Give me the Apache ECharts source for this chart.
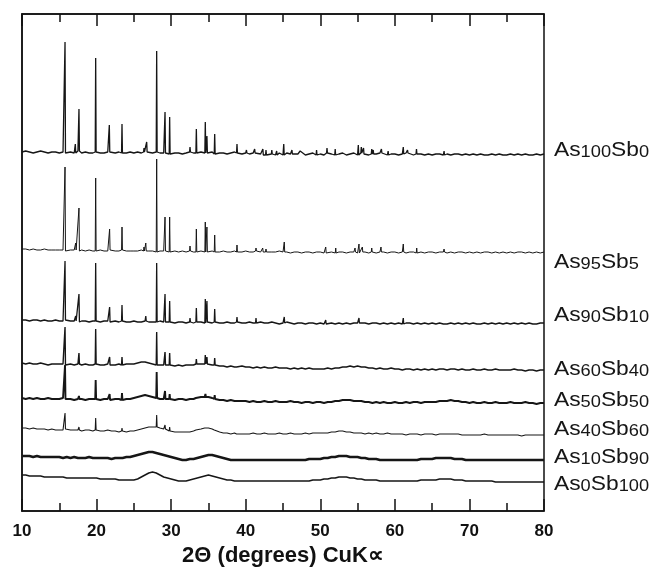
<!DOCTYPE html>
<html>
<head>
<meta charset="utf-8">
<script src="https://cdn.jsdelivr.net/npm/echarts@6/dist/echarts.min.js"></script>
<style>
  html, body { margin: 0; padding: 0; background: #ffffff; }
  #chart { width: 655px; height: 569px; }
</style>
</head>
<body>
<div id="chart"></div>
<script>
// Powder XRD patterns of As–Sb films, stacked with a vertical offset (arbitrary units).
// Each trace: a background sampled every 0.5° from 10° to 80°, plus sharp reflections [2θ, peak top].
const twoThetaStart = 10;
const twoThetaStep = 0.5;

const as100sb0Base = [
  359,360,359,358,359,360,359,358,359,359,
  358,359,358,359,358,360,358,359,358,358,
  359,358,358,359,357,358,359,358,358,359,
  358,359,358,359,358,358,359,358,358,358,
  357,358,358,357,358,359,358,358,359,358,
  358,359,357,358,358,357,358,359,358,357,
  358,357,358,359,357,356,358,357,356,358,
  356,358,357,356,357,358,356,357,358,356,
  357,356,358,357,356,357,358,356,357,358,
  356,358,357,356,357,357,358,356,356,357,
  357,356,357,358,357,356,357,357,356,357,
  356,357,357,356,357,356,357,357,356,357,
  356,357,356,357,356,356,357,356,357,356,
  356,357,356,357,356,357,356,356,357,356,
  357
];
const as100sb0Peaks = [
  [15.77,469],[17.15,367],[17.64,402],[19.88,453],[21.71,386],[23.41,387],
  [26.36,363],[26.72,369],[28.06,460],[29.18,399],[29.8,394],[32.53,364],
  [33.38,382],[34.58,389],[34.8,375],[35.84,377],[38.83,367],[40.1,361],
  [41.2,362],[42.3,362],[42.72,361],[43.5,361],[44.15,360],[45.1,367],
  [46.2,361],[47.3,360],[49.5,361],[50.9,363],[52.0,362],[55.1,366],
  [55.5,364],[55.8,363],[56.9,362],[57.1,361],[58.2,362],[59.1,360],
  [61.13,364],[61.7,361],[62.9,362],[66.6,360],[73.2,359]
];

const as95sb5Base = [
  262,262,261,262,261,261,262,261,261,261,
  261,261,260,261,261,260,261,260,261,260,
  260,261,260,260,261,260,260,261,260,260,
  260,260,261,260,260,260,259,260,260,260,
  259,260,259,260,259,260,259,259,260,259,
  259,260,259,259,260,259,259,260,259,259,
  260,259,259,260,259,259,258,259,259,260,
  259,259,258,259,259,258,259,259,258,259,
  259,258,259,259,258,259,259,258,259,259,
  258,259,259,258,259,258,259,259,258,259,
  259,258,259,258,259,259,258,259,258,259,
  259,258,259,259,258,259,258,259,259,258,
  259,258,259,258,259,259,258,259,258,259,
  258,259,258,259,259,258,259,258,259,258,
  259
];
const as95sb5Peaks = [
  [15.77,344],[17.2,268],[17.64,303],[19.88,333],[21.75,282],[23.41,284],
  [26.36,264],[26.6,268],[28.06,352],[29.18,294],[29.8,294],[32.53,265],
  [33.38,282],[34.58,289],[34.8,284],[35.84,276],[38.83,266],[41.38,263],
  [42.28,263],[42.72,262],[45.17,269],[49.54,261],[50.73,264],[52.07,263],
  [54.66,263],[55.19,267],[55.64,264],[56.9,263],[58.14,264],[61.13,267],
  [62.93,263],[66.6,262]
];

const as90sb10Base = [
  191,191,190,191,191,190,191,190,190,191,
  190,190,191,190,190,189,190,190,189,190,
  190,189,190,190,189,190,189,190,189,189,
  190,189,189,190,189,189,189,190,189,189,
  189,188,189,189,188,189,188,189,189,188,
  189,188,189,188,188,189,188,188,189,188,
  188,189,188,188,189,188,188,189,188,187,
  188,189,188,187,188,188,187,188,188,187,
  188,187,188,188,187,188,187,188,187,188,
  188,187,188,187,188,188,187,188,187,188,
  187,188,187,188,188,187,188,187,188,187,
  188,187,188,187,187,188,187,188,187,188,
  187,188,187,187,188,187,188,187,188,187,
  188,187,188,187,188,187,188,187,187,188,
  188
];
const as90sb10Peaks = [
  [15.77,250],[17.2,195],[17.64,217],[19.88,248],[21.75,204],[23.41,206],
  [26.6,195],[28.06,248],[29.18,217],[29.8,210],[32.53,193],[33.38,203],
  [34.58,212],[34.8,210],[35.84,202],[38.83,194],[41.38,193],[45.17,194],
  [50.73,191],[55.19,193],[61.13,193]
];

const as60sb40Base = [
  148,147,148,147,147,148,147,146,147,147,
  147,147,146,147,146,147,146,147,146,146,
  147,146,146,147,146,146,147,146,147,147,
  147,148,149,149,148,147,146,146,146,146,
  146,145,146,145,146,146,146,147,147,147,
  147,146,146,145,145,144,145,144,144,145,
  144,144,143,144,143,144,143,143,144,143,
  143,143,142,143,142,143,142,143,142,142,
  142,142,143,142,143,143,144,144,145,144,
  145,144,144,143,143,142,143,142,142,143,
  142,142,141,142,142,141,142,141,142,141,
  142,141,142,142,141,142,142,141,142,141,
  141,142,141,141,142,141,141,142,141,141,
  141,141,142,141,141,140,141,141,140,141,
  141
];
const as60sb40Peaks = [
  [15.77,184],[17.64,158],[19.88,182],[21.75,154],[23.41,154],[26.6,151],
  [28.06,179],[29.18,159],[29.8,158],[33.38,152],[34.58,156],[34.8,154],
  [35.84,153],[38.83,146],[55.19,147]
];

const as50sb50Base = [
  113,112,113,112,113,112,112,113,112,112,
  112,113,112,112,111,112,112,111,112,112,
  112,111,112,112,111,112,112,111,112,112,
  113,114,115,116,115,114,113,112,112,112,
  112,111,112,112,111,112,112,113,114,114,
  114,113,112,111,111,110,111,110,110,110,
  110,109,110,109,109,110,109,109,110,109,
  109,109,110,109,109,108,109,109,108,109,
  109,108,109,109,110,110,111,111,111,110,
  110,110,109,109,108,109,108,109,108,108,
  109,108,108,109,108,109,109,108,109,109,
  109,109,110,110,110,111,110,110,109,109,
  108,109,108,108,109,108,108,109,108,108,
  108,109,108,108,108,109,108,108,107,108,
  108
];
const as50sb50Peaks = [
  [15.77,146],[17.64,115],[19.88,131],[21.75,117],[23.41,118],[26.6,118],
  [28.06,139],[29.18,120],[29.8,117],[33.38,114],[34.6,117],[35.84,116]
];

const as40sb60Base = [
  83,83,82,83,82,82,82,81,82,81,
  81,81,82,81,81,81,80,81,81,80,
  81,80,80,81,80,80,79,80,79,80,
  80,81,82,83,84,84,84,83,82,81,
  80,79,79,79,79,79,80,81,82,83,
  83,82,81,79,78,78,77,78,77,77,
  77,77,78,77,77,78,77,77,77,78,
  77,77,78,77,77,77,78,77,78,78,
  78,78,78,79,79,80,80,79,79,78,
  78,78,77,78,77,78,77,77,78,77,
  77,77,77,76,77,77,77,76,77,77,
  77,76,77,77,77,77,77,77,76,76,
  76,76,76,76,77,76,76,76,76,76,
  76,76,76,76,75,76,76,76,76,76,
  76
];
const as40sb60Peaks = [
  [15.77,98],[17.64,84],[19.88,93],[21.7,82],[23.41,83],[28.06,96],
  [29.18,86],[29.8,84],[33.38,82],[34.6,85],[35.84,83],[38.83,79]
];

const as10sb90Base = [
  55,55,55,54,55,54,54,54,54,54,
  54,53,54,53,54,53,53,53,54,53,
  53,53,53,53,52,53,53,53,54,54,
  55,56,57,58,59,59,58,57,56,55,
  54,53,52,51,51,52,52,53,54,55,
  56,56,55,54,53,52,51,51,51,51,
  51,51,51,51,51,51,51,51,51,51,
  51,51,51,51,51,51,51,52,52,52,
  52,53,53,54,54,55,55,55,54,54,
  54,53,53,52,52,52,51,51,51,51,
  51,51,51,51,51,51,51,52,52,52,
  52,53,53,53,53,53,52,52,52,51,
  51,51,51,51,51,51,51,51,51,51,
  51,51,51,51,51,51,51,51,51,51,
  51
];
const as10sb90Peaks = [];

const as0sb100Base = [
  36,36,35,35,35,35,34,34,34,34,
  34,34,33,33,33,33,33,33,33,33,
  33,32,32,32,32,32,31,31,31,31,
  31,32,34,36,38,39,38,36,34,33,
  32,31,30,30,30,31,32,33,34,35,
  36,35,34,33,32,31,31,30,30,30,
  30,30,30,30,30,30,30,30,30,30,
  30,30,30,30,30,30,30,30,31,31,
  31,32,32,33,33,34,34,34,33,33,
  32,32,31,31,31,31,30,30,30,30,
  30,30,30,30,30,30,30,31,31,31,
  31,31,32,32,32,32,31,31,31,30,
  30,30,30,30,30,30,30,29,29,29,
  29,29,29,29,29,29,29,29,29,29,
  29
];
const as0sb100Peaks = [];

// Composition labels: [As subscript, Sb subscript]
const compositions = [
  ['100','0'], ['95','5'], ['90','10'], ['60','40'],
  ['50','50'], ['40','60'], ['10','90'], ['0','100']
];
const xTicks = [10, 20, 30, 40, 50, 60, 70, 80];

const traces = [
  { base: as100sb0Base, peaks: as100sb0Peaks, width: 1.3, labelY: 150 },
  { base: as95sb5Base,  peaks: as95sb5Peaks,  width: 1.0, labelY: 262 },
  { base: as90sb10Base, peaks: as90sb10Peaks, width: 1.3, labelY: 315 },
  { base: as60sb40Base, peaks: as60sb40Peaks, width: 1.4, labelY: 369 },
  { base: as50sb50Base, peaks: as50sb50Peaks, width: 1.9, labelY: 400 },
  { base: as40sb60Base, peaks: as40sb60Peaks, width: 1.1, labelY: 429 },
  { base: as10sb90Base, peaks: as10sb90Peaks, width: 2.4, labelY: 457 },
  { base: as0sb100Base, peaks: as0sb100Peaks, width: 1.5, labelY: 484 }
];

// Merge background samples and narrow reflections into one ordered trace.
const halfWidth = 0.06;
function buildTrace(base, peaks) {
  const pts = [];
  base.forEach((v, i) => {
    const x = twoThetaStart + i * twoThetaStep;
    if (!peaks.some(p => Math.abs(p[0] - x) < halfWidth + 0.02)) pts.push([x, v]);
  });
  peaks.forEach(([x, top]) => {
    const foot = base[Math.round((x - twoThetaStart) / twoThetaStep)];
    pts.push([x - halfWidth, foot], [x, top], [x + halfWidth, foot]);
  });
  return pts.sort((a, b) => a[0] - b[0]);
}

const chart = echarts.init(document.getElementById('chart'), null, { renderer: 'canvas' });

const tickStyle = { show: true, inside: true, length: 12, lineStyle: { color: '#111', width: 1.5 } };
const minorStyle = { show: true, splitNumber: 2, length: 8, lineStyle: { color: '#111', width: 1.5 } };
const fontStack = 'Liberation Sans, Arial, sans-serif';

const option = {
  animation: false,
  backgroundColor: '#ffffff',
  grid: {
    left: 22, top: 14, width: 522, height: 497,
    outerBoundsMode: 'none',
    containLabel: false,
    show: true, borderColor: '#111', borderWidth: 1.5, backgroundColor: 'transparent'
  },
  xAxis: [
    {
      type: 'value', min: xTicks[0], max: xTicks[xTicks.length - 1], interval: 10,
      position: 'bottom',
      axisLine: { show: true, lineStyle: { color: '#111', width: 1.5 } },
      axisTick: tickStyle, minorTick: minorStyle,
      splitLine: { show: false },
      axisLabel: {
        margin: 12, color: '#111', fontSize: 17, fontWeight: 'bold', fontFamily: fontStack
      },
      name: '2\u0398 (degrees) CuK\u221D',
      nameLocation: 'middle', nameGap: 34,
      nameTextStyle: {
        color: '#111', fontSize: 22, fontWeight: 'bold', fontFamily: fontStack,
        verticalAlign: 'top'
      }
    },
    {
      type: 'value', min: xTicks[0], max: xTicks[xTicks.length - 1], interval: 10,
      position: 'top',
      axisLine: { show: true, lineStyle: { color: '#111', width: 1.5 } },
      axisTick: tickStyle, minorTick: minorStyle,
      splitLine: { show: false },
      axisLabel: { show: false }
    }
  ],
  yAxis: {
    type: 'value', min: 0, max: 497,
    axisLine: { show: true, lineStyle: { color: '#111', width: 1.5 } },
    axisTick: { show: false }, axisLabel: { show: false }, splitLine: { show: false }
  },
  series: traces.map((t, i) => ({
    name: 'As' + compositions[i][0] + 'Sb' + compositions[i][1],
    type: 'line',
    xAxisIndex: 0,
    showSymbol: false,
    symbol: 'none',
    clip: true,
    lineStyle: { color: '#161616', width: t.width, join: 'bevel' },
    data: buildTrace(t.base, t.peaks)
  })),
  graphic: traces.map((t, i) => ({
    type: 'text',
    x: 554, y: t.labelY,
    scaleX: 1.14,
    style: {
      text: '{m|As}{s|' + compositions[i][0] + '}{m|Sb}{s|' + compositions[i][1] + '}',
      verticalAlign: 'middle', align: 'left',
      fill: '#161616',
      rich: {
        m: { fontSize: 20, lineHeight: 22, fontFamily: fontStack, fill: '#161616' },
        s: { fontSize: 16, lineHeight: 15, verticalAlign: 'bottom', fontFamily: fontStack, fill: '#161616' }
      }
    }
  }))
};

chart.setOption(option);
</script>
</body>
</html>
